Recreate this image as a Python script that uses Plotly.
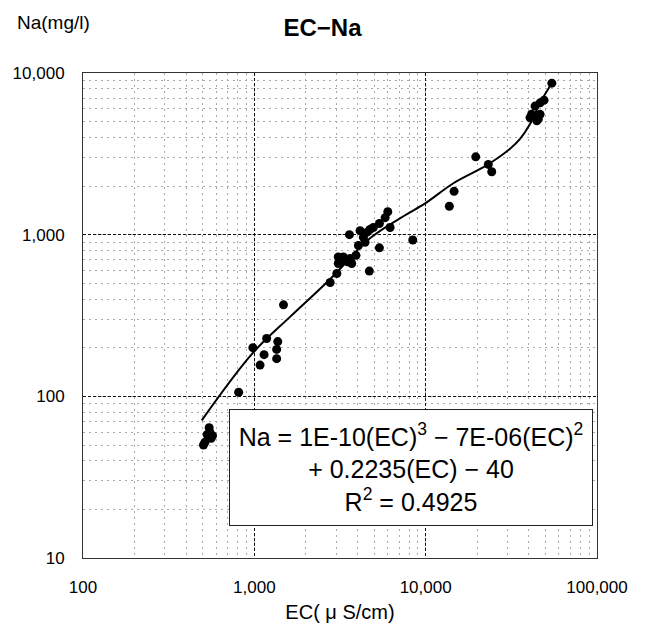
import plotly.graph_objects as go

# ---- data ----
ec_values = [505, 515, 530, 545, 560, 550, 570,
             810, 980, 1080, 1140, 1180, 1350, 1350, 1370, 1480,
             2770, 3030, 3090, 3090, 3200, 3310, 3500, 3620, 3700, 3920,
             3590, 4050, 4140, 4330, 4430, 4530, 4730, 4950, 5370, 5800, 6010, 6200,
             4690, 5370, 8410, 13750, 14650, 19600, 23200, 24300,
             40650, 41500, 43500, 44550, 45400, 46550, 46550, 49100, 54500]
na_values = [50, 52, 58, 64, 55, 60, 57,
             106, 200, 156, 181, 228, 171, 195, 218, 368,
             506, 575, 728, 663, 690, 728, 680, 711, 663, 745,
             1000, 857, 1057, 963, 898, 1033, 1077, 1107, 1173, 1274, 1387, 1107,
             595, 829, 927, 1500, 1854, 3030, 2720, 2450,
             5300, 5550, 6240, 5060, 5180, 5550, 6540, 6790, 8650]

# trend line, sampled from the drawn curve
trend_ec = [493, 978, 1615, 2767, 4730, 7413, 9930, 14520, 22750, 31100, 35560, 40650, 46550, 54450]
trend_na = [71, 185, 310, 530, 950, 1300, 1560, 2080, 2690, 3400, 3910, 4830, 6540, 8650]

x_ticks = [100, 1000, 10000, 100000]
x_tick_labels = ["100", "1,000", "10,000", "100,000"]
y_ticks = [10, 100, 1000, 10000]
y_tick_labels = ["10", "100", "1,000", "10,000"]

title_text = "<b>EC−Na</b>"
x_title = "EC( μ S/cm)"
y_title = "Na(mg/l)"
eq_text = ("Na = 1E-10(EC)<sup>3</sup> − 7E-06(EC)<sup>2</sup><br>"
           "+ 0.2235(EC) − 40<br>R<sup>2</sup> = 0.4925")

FONT = "Liberation Sans, Arial, sans-serif"

fig = go.Figure()
fig.add_trace(go.Scatter(x=trend_ec, y=trend_na, mode="lines",
                         line=dict(color="black", width=2, shape="spline", smoothing=1.0),
                         hoverinfo="skip", showlegend=False))
fig.add_trace(go.Scatter(x=ec_values, y=na_values, mode="markers",
                         marker=dict(color="black", size=9),
                         showlegend=False))

axis_common = dict(
    type="log", showline=True, mirror=True, linecolor="#333", linewidth=1,
    showgrid=True, gridcolor="#111", griddash="3px,2px", gridwidth=1,
    ticks="", zeroline=False,
    tickfont=dict(family=FONT, size=17, color="black"),
    minor=dict(dtick="D1", showgrid=True, gridcolor="#aaa", griddash="2px,4px", gridwidth=1, ticks=""),
)

fig.update_xaxes(range=[2, 5], tickvals=x_ticks, ticktext=x_tick_labels,
                 ticklabelstandoff=14,
                 title=dict(text=x_title, font=dict(family=FONT, size=20, color="black"), standoff=8),
                 **axis_common)
fig.update_yaxes(range=[1, 4], tickvals=y_ticks, ticktext=y_tick_labels,
                 ticklabelstandoff=14, **axis_common)

fig.update_layout(
    width=645, height=631,
    margin=dict(l=83, r=48, t=73, b=64),
    paper_bgcolor="white", plot_bgcolor="white",
    title=dict(text=title_text, x=0.5, xref="container", xanchor="center",
               y=1 - 28 / 631, yref="container", yanchor="middle",
               font=dict(family=FONT, size=24, color="black")),
    annotations=[
        dict(text=y_title, xref="paper", yref="paper", x=(15 - 83) / 514, y=(567 - 22) / 494,
             xanchor="left", yanchor="middle", showarrow=False,
             font=dict(family=FONT, size=19, color="black")),
        dict(text=eq_text, xref="paper", yref="paper", x=(411 - 83) / 514, y=(567 - 474.5) / 494,
             xanchor="center", yanchor="middle", showarrow=False, align="center",
             width=360, height=113, borderpad=1,
             bordercolor="#222", borderwidth=1, bgcolor="white",
             font=dict(family=FONT, size=25, color="black")),
    ],
)

fig.write_html("out.html")
